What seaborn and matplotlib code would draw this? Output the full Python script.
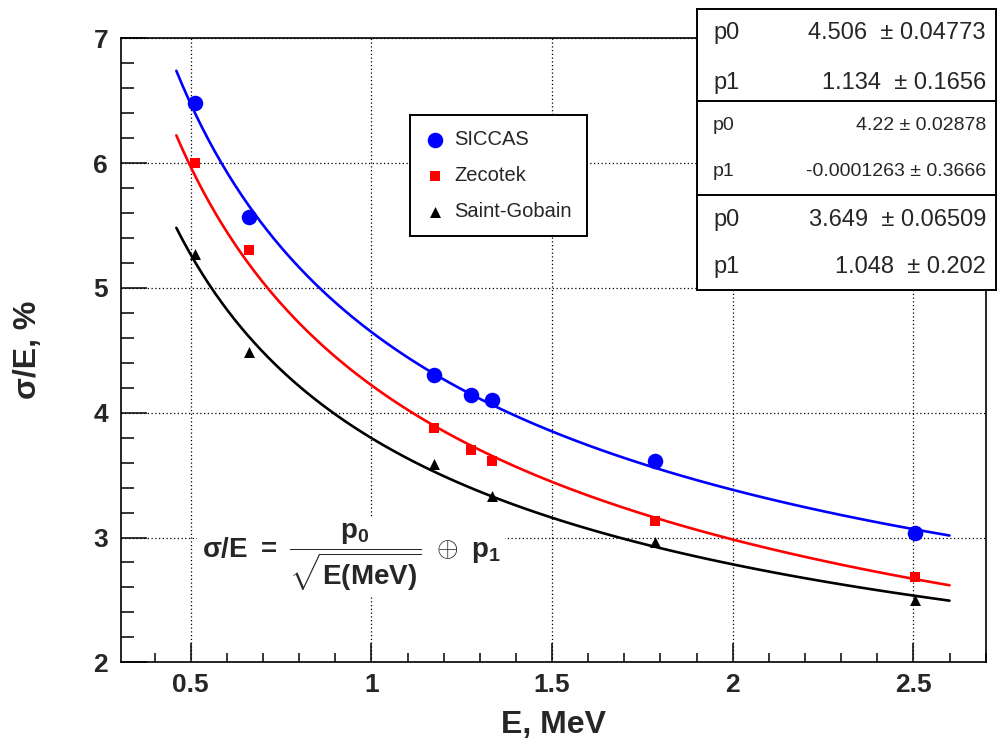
import matplotlib
matplotlib.use("Agg")
import matplotlib.pyplot as plt
import numpy as np
import pandas as pd
import seaborn as sns
from matplotlib.ticker import MultipleLocator, FuncFormatter

# ── data ─────────────────────────────────────────────────────────────────────
crystals = ["SICCAS", "Zecotek", "Saint-Gobain"]

energy_siccas = [0.511, 0.662, 1.173, 1.275, 1.333, 1.785, 2.505]
res_siccas = [6.48, 5.57, 4.30, 4.14, 4.10, 3.61, 3.04]

energy_zecotek = [0.511, 0.662, 1.173, 1.275, 1.333, 1.785, 2.505]
res_zecotek = [6.00, 5.30, 3.88, 3.70, 3.61, 3.13, 2.68]

energy_sg = [0.511, 0.662, 1.173, 1.333, 1.785, 2.505]
res_sg = [5.27, 4.49, 3.59, 3.33, 2.96, 2.50]

# fit results: sigma/E = p0/sqrt(E) (+) p1
fit_p0 = [4.506, 4.22, 3.649]
fit_p0_err = [0.04773, 0.02878, 0.06509]
fit_p1 = [1.134, -0.0001263, 1.048]
fit_p1_err = [0.1656, 0.3666, 0.202]
fit_range = (0.46, 2.6)

colors = ["#0000ff", "#ff0000", "#000000"]
markers = ["o", "s", "^"]
marker_sizes = [125, 62, 62]

# ── style ────────────────────────────────────────────────────────────────────
sns.set_style("ticks")
plt.rcParams["font.family"] = ["Liberation Sans", "DejaVu Sans"]
plt.rcParams["mathtext.fontset"] = "custom"
plt.rcParams["mathtext.rm"] = "Liberation Sans"
plt.rcParams["mathtext.it"] = "Liberation Sans:bold"
plt.rcParams["mathtext.bf"] = "Liberation Sans:bold"

W, H = 998, 743
fig = plt.figure(figsize=(W / 100, H / 100), dpi=100)
fig.patch.set_facecolor("white")
ax = fig.add_axes([120.7 / W, 1 - 662.3 / H, (986 - 120.7) / W, (662.3 - 38.3) / H])
ax.set_facecolor("white")

points = [(energy_siccas, res_siccas), (energy_zecotek, res_zecotek), (energy_sg, res_sg)]
e_grid = np.linspace(fit_range[0], fit_range[1], 120)

for i, name in enumerate(crystals):
    df = pd.DataFrame({"E": points[i][0], "res": points[i][1]})
    fit = np.sqrt((fit_p0[i] / np.sqrt(e_grid)) ** 2 + fit_p1[i] ** 2)
    sns.lineplot(x=e_grid, y=fit, ax=ax, color=colors[i], lw=1.9, zorder=3)
    sns.scatterplot(data=df, x="E", y="res", ax=ax, color=colors[i],
                    marker=markers[i], s=marker_sizes[i], linewidth=0,
                    label=name, zorder=4)

ax.set_xlim(0.306, 2.701)
ax.set_ylim(2, 7)
ax.xaxis.set_major_locator(MultipleLocator(0.5))
ax.xaxis.set_minor_locator(MultipleLocator(0.1))
ax.yaxis.set_major_locator(MultipleLocator(1))
ax.yaxis.set_minor_locator(MultipleLocator(0.2))
fmt = FuncFormatter(lambda v, p: f"{v:g}")
ax.xaxis.set_major_formatter(fmt)
ax.yaxis.set_major_formatter(fmt)

ax.grid(True, which="major", color="black", linestyle=(0, (1, 2)), lw=0.9, zorder=1)
for s in ax.spines.values():
    s.set_color("black")
    s.set_linewidth(1.2)
    s.set_visible(True)

ax.tick_params(axis="both", which="both", direction="in", top=False, right=False,
               color="black", width=1.1)
ax.tick_params(axis="x", which="major", length=13.5, pad=8, labelsize=19)
ax.tick_params(axis="x", which="minor", length=6.7)
ax.tick_params(axis="y", which="major", length=18.7, pad=9, labelsize=19)
ax.tick_params(axis="y", which="minor", length=9.4)
plt.setp(ax.get_xticklabels(), fontweight="bold")
plt.setp(ax.get_yticklabels(), fontweight="bold")

ax.set_xlabel("E, MeV", fontsize=23, fontweight="bold")
ax.set_ylabel("σ/E, %", fontsize=23, fontweight="bold")
ax.xaxis.set_label_coords(0.5, -0.076)
ax.yaxis.set_label_coords(-0.09, 0.5)

# formula
ax.text(0.53, 2.84, r"$\sigma\mathbf{/E\ =\ \dfrac{p_0}{\sqrt{E(MeV)}}}\ \oplus\ \mathbf{p_1}$",
        fontsize=20, ha="left", va="center", zorder=2,
        bbox=dict(facecolor="white", edgecolor="none", pad=3))

leg = ax.legend(loc="upper left", bbox_to_anchor=(0.334, 0.877), borderaxespad=0,
                fontsize=14.5, frameon=True, fancybox=False, framealpha=1,
                edgecolor="black", handlelength=1.0, handletextpad=0.45,
                labelspacing=0.85, borderpad=0.75)
leg.get_frame().set_linewidth(1.4)
leg.set_zorder(6)

# fit parameter box (figure pixels)
tab = fig.add_axes([697 / W, 1 - 290 / H, 299 / W, 281 / H])
tab.set_xlim(0, 299)
tab.set_ylim(281, 0)
tab.set_xticks([])
tab.set_yticks([])
tab.set_facecolor("white")
for s in tab.spines.values():
    s.set_color("black")
    s.set_linewidth(1.4)
for y in (92, 186):
    tab.axhline(y, color="black", lw=1.4)

row_y = [(24, 74), (116, 163), (211, 258)]
row_fs = [17, 14, 17]
row_sep = ["  \u00b1 ", " \u00b1 ", "  \u00b1 "]
for i in range(3):
    vals = [(fit_p0[i], fit_p0_err[i]), (fit_p1[i], fit_p1_err[i])]
    for j, (v, e) in enumerate(vals):
        tab.text(16, row_y[i][j], f"p{j}", fontsize=row_fs[i], ha="left", va="center")
        tab.text(289, row_y[i][j], f"{v:g}{row_sep[i]}{e:g}", fontsize=row_fs[i],
                 ha="right", va="center")

fig.savefig("out.png", dpi=100)
